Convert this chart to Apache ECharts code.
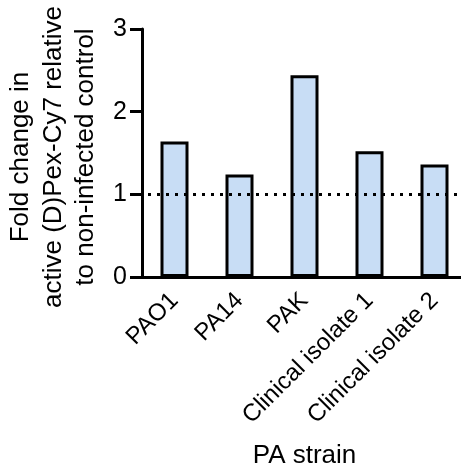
<!DOCTYPE html>
<html><head><meta charset="utf-8">
<script src="https://cdn.jsdelivr.net/npm/echarts@6/dist/echarts.min.js"></script>
<style>html,body{margin:0;padding:0;background:#fff}#c{width:461px;height:473px}</style>
</head><body><div id="c"></div>
<script>
var categories = ['PAO1', 'PA14', 'PAK', 'Clinical isolate 1', 'Clinical isolate 2'];
var foldChange = [1.64, 1.24, 2.44, 1.52, 1.36];
var referenceLevel = 1;
var yTicks = [0, 1, 2, 3];

var FONT = '"Liberation Sans", Arial, sans-serif';
var chart = echarts.init(document.getElementById('c'));
chart.setOption({
  animation: false,
  backgroundColor: '#fff',
  grid: { left: 142, right: -6, top: 29, bottom: 196, containLabel: false, outerBoundsMode: 'none' },
  xAxis: {
    type: 'category',
    data: categories,
    name: 'PA strain',
    nameLocation: 'middle',
    nameGap: 166,
    nameTextStyle: { fontFamily: FONT, fontSize: 26, color: '#000' },
    axisLine: { lineStyle: { color: '#000', width: 3 } },
    axisTick: { alignWithLabel: true, length: 10, lineStyle: { color: '#000', width: 3 } },
    axisLabel: { rotate: 45, margin: 20, fontFamily: FONT, fontSize: 24, color: '#000' }
  },
  yAxis: {
    type: 'value',
    min: yTicks[0], max: yTicks[yTicks.length - 1], interval: 1,
    name: 'Fold change in\nactive (D)Pex-Cy7 relative\nto non-infected control',
    nameLocation: 'middle',
    nameGap: 27,
    nameTextStyle: { fontFamily: FONT, fontSize: 26, color: '#000', lineHeight: 32.5, padding: [0, 8, 0, 0] },
    splitLine: { show: false },
    axisLine: { show: true, lineStyle: { color: '#000', width: 3 } },
    axisTick: { show: true, length: 12, lineStyle: { color: '#000', width: 3 } },
    axisLabel: { margin: 15, fontFamily: FONT, fontSize: 25, color: '#000' }
  },
  series: [
    {
      type: 'bar',
      data: foldChange,
      barWidth: 28,
      z: 3,
      itemStyle: { color: '#c8ddf5', borderColor: '#000', borderWidth: 3 }
    },
    {
      type: 'line',
      data: [],
      z: 1,
      markLine: {
        silent: true,
        symbol: 'none',
        label: { show: false },
        lineStyle: { color: '#000', width: 3, type: [3, 6], dashOffset: 3 },
        data: [{ yAxis: referenceLevel }]
      }
    }
  ]
});
</script></body></html>
